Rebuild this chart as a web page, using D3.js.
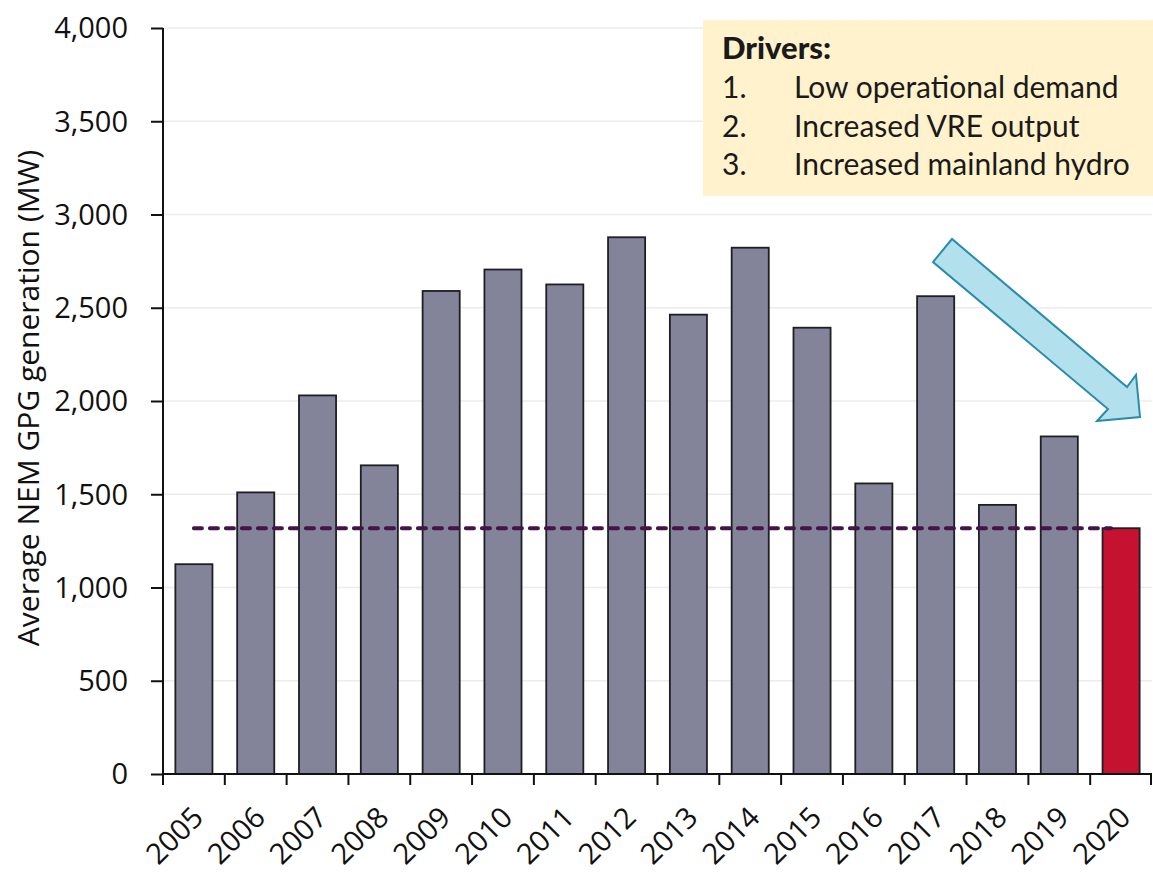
<!DOCTYPE html>
<head>
  <meta charset="utf-8">
  <script src="https://d3js.org/d3.v7.min.js"></script>
  <style>
    body { margin:0; background:#fff; }
    text { font-family: "Open Sans", sans-serif; fill:#111; }
    .box text { font-family: Lato, sans-serif; fill:#1a1a1a; }
  </style>
</head>
<body>
  <script>
    var years = ["2005","2006","2007","2008","2009","2010","2011","2012","2013","2014","2015","2016","2017","2018","2019","2020"];
    var gpg = [1125, 1510, 2030, 1655, 2590, 2705, 2625, 2878, 2463, 2822, 2393, 1558, 2562, 1443, 1810, 1318];
    var baseline = 1318;   // 2020 level, drawn as dashed line
    var yTicks = [0, 500, 1000, 1500, 2000, 2500, 3000, 3500, 4000];
    var drivers = ["Low operational demand", "Increased VRE output", "Increased mainland hydro"];

    var width = 1153, height = 873;
    var margin = {top: 28, right: 1, bottom: 99, left: 163};

    var svg = d3.select("body").append("svg")
      .attr("width", width)
      .attr("height", height);

    var x = d3.scaleBand()
        .domain(years)
        .range([margin.left, width - margin.right])
        .paddingInner(0.4)
        .paddingOuter(0.2);

    var y = d3.scaleLinear()
        .domain([0, 4000])
        .range([height - margin.bottom, margin.top]);

    // gridlines
    svg.append("g").selectAll("line").data(yTicks.slice(1)).enter()
      .append("line")
      .attr("x1", margin.left).attr("x2", width - margin.right)
      .attr("y1", function(d) { return y(d); })
      .attr("y2", function(d) { return y(d); })
      .style("stroke", "#ececec").style("stroke-width", 1.5);

    // bars
    svg.append("g").selectAll("rect").data(gpg).enter()
      .append("rect")
      .attr("x", function(d, i) { return x(years[i]); })
      .attr("y", function(d) { return y(d); })
      .attr("width", x.bandwidth())
      .attr("height", function(d) { return y(0) - y(d); })
      .style("fill", function(d, i) { return years[i] == "2020" ? "#c41230" : "#838499"; })
      .style("stroke", "#1e1e24")
      .style("stroke-width", 1.8);

    // dashed reference line
    svg.append("line")
      .attr("x1", x(years[0]) + x.bandwidth() / 2 - 0)
      .attr("x2", x(years[years.length - 1]) + x.bandwidth() / 2 - 10)
      .attr("y1", y(baseline)).attr("y2", y(baseline))
      .style("stroke", "#421447").style("stroke-width", 4)
      .style("stroke-linecap", "round")
      .style("stroke-dasharray", "8,8");

    // y axis
    var yAxis = svg.append("g")
      .attr("transform", "translate(" + margin.left + ",0)")
      .call(d3.axisLeft(y).tickValues(yTicks).tickSize(12).tickPadding(23).tickFormat(d3.format(",")));
    yAxis.selectAll("text").style("font-size", "29px").style("font-family", "Open Sans, sans-serif").attr("dy", "0.34em");
    yAxis.selectAll("line, path").style("stroke", "#111").style("stroke-width", 2);
    yAxis.select(".domain").attr("d", "M0," + y(4000) + "V" + y(0));

    // x axis
    var xAxis = svg.append("g")
      .attr("transform", "translate(0," + y(0) + ")");
    xAxis.append("line")
      .attr("x1", margin.left).attr("x2", width - margin.right)
      .style("stroke", "#111").style("stroke-width", 2);
    var bounds = years.map(function(d) { return x(d) - x.step() * x.paddingInner() / 2; });
    bounds.push(width - margin.right - 1);
    xAxis.selectAll("line.tk").data(bounds).enter()
      .append("line").attr("class", "tk")
      .attr("x1", function(d) { return d; }).attr("x2", function(d) { return d; })
      .attr("y1", 0).attr("y2", 11)
      .style("stroke", "#111").style("stroke-width", 2);
    xAxis.selectAll("text").data(years).enter()
      .append("text")
      .attr("transform", function(d) { return "translate(" + (x(d) + x.bandwidth() / 2 + 4) + ",38) rotate(-45)"; })
      .attr("text-anchor", "end")
      .attr("dy", "0.35em")
      .style("font-size", "29px")
      .text(function(d) { return d; });

    // y title
    svg.append("text")
      .attr("transform", "translate(39," + 398 + ") rotate(-90)")
      .attr("text-anchor", "middle")
      .style("font-size", "30px")
      .text("Average NEM GPG generation (MW)");

    // drivers box
    var box = svg.append("g").attr("class", "box");
    box.append("rect")
      .attr("x", 703).attr("y", 20).attr("width", 450).attr("height", 176)
      .style("fill", "#fff2cc");
    box.append("text")
      .attr("x", 722).attr("y", 59)
      .style("font-size", "31px").style("font-weight", "900")
      .text("Drivers:");
    drivers.forEach(function(t, i) {
      box.append("text").attr("x", 722).attr("y", 98 + i * 38.5)
        .style("font-size", "30px").text((i + 1) + ".");
      box.append("text").attr("x", 794).attr("y", 98 + i * 38.5)
        .style("font-size", "30px").text(t);
    });

    // trend arrow
    var arrow = [[952,239],[933,262],[1108,409],[1097,421],[1140,417],[1136,375],[1127,387]];
    svg.append("path")
      .attr("d", d3.line()(arrow) + "Z")
      .style("fill", "#b3e0ed")
      .style("stroke", "#2a8cab")
      .style("stroke-width", 2);
  </script>
</body>
